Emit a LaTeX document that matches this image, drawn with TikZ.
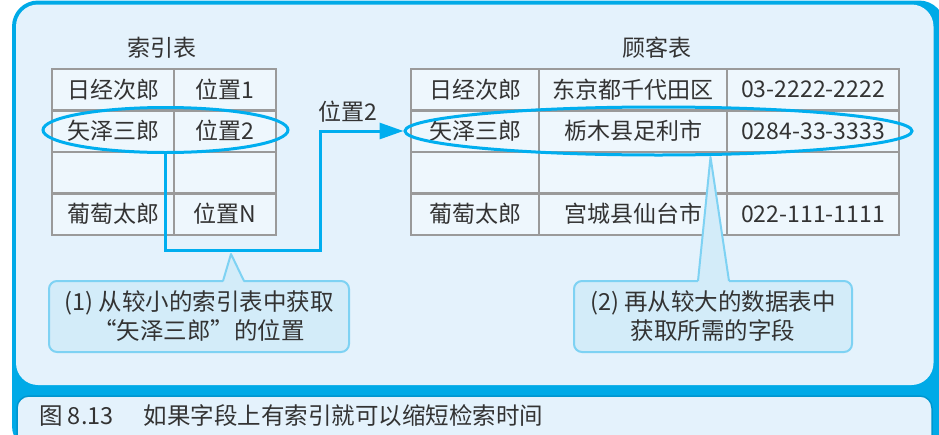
\documentclass[tikz,border=0pt]{standalone}
\usepackage{fontspec}
\setmainfont{Noto Sans CJK SC}
\usetikzlibrary{shapes.geometric,arrows.meta}
\definecolor{frameblue}{HTML}{00AAE7}
\definecolor{framedark}{HTML}{0096CF}
\definecolor{panel}{HTML}{E4F2FC}
\definecolor{cellfill}{HTML}{EEF7FD}
\definecolor{gridgray}{HTML}{9A9A9A}
\definecolor{hlblue}{HTML}{00AEEF}
\definecolor{calloutfill}{HTML}{D3ECF9}
\definecolor{calloutline}{HTML}{7ED2F3}
\definecolor{txt}{HTML}{333333}
\begin{document}
\begin{tikzpicture}[x=1pt,y=-1pt,
  cell/.style={draw=gridgray, line width=2.5pt, fill=cellfill, minimum height=41.5pt,
    inner sep=0pt, text=txt, font=\fontsize{23}{27}\selectfont},
  ttl/.style={text=txt, font=\fontsize{23}{27}\selectfont, inner sep=0pt},
  hl/.style={ellipse, draw=hlblue, line width=3pt, inner sep=0pt},
  cbox/.style={draw=calloutline, line width=2pt, fill=calloutfill, rounded corners=8pt,
    inner sep=0pt, text=txt, align=center, font=\fontsize{23.5}{29}\selectfont},
  flow/.style={draw=hlblue, line width=3pt, -{Triangle[length=24pt,width=16pt]}}
]
\useasboundingbox (0,0) rectangle (939,434);
\clip (0,0) rectangle (939,434);
% frame
\fill[frameblue, rounded corners=26pt] (12,0.5) rectangle (945,452);
\fill[panel, rounded corners=22pt] (16,4.5) rectangle (933.5,385);
\draw[framedark, line width=1.5pt, fill=panel, rounded corners=12pt] (17,396) rectangle (932,448);
\node[anchor=west, text=txt, font=\fontsize{23.5}{27}\selectfont, inner sep=0pt] (cap) at (39,415.5) {图 8.13\hspace{30pt}如果字段上有索引就可以缩短检索时间};

% titles
\node[ttl] (t1) at (162,48) {索引表};
\node[ttl] (t2) at (657,48) {顾客表};

% index table
\node[cell, minimum width=122pt] (i11) at (113,89.5) {日经次郎};
\node[cell, minimum width=102pt] (i12) at (225,89.5) {位置1};
\node[cell, minimum width=122pt] (i21) at (113,131) {矢泽三郎};
\node[cell, minimum width=102pt] (i22) at (225,131) {位置2};
\node[cell, minimum width=122pt] (i31) at (113,172.5) {};
\node[cell, minimum width=102pt] (i32) at (225,172.5) {};
\node[cell, minimum width=122pt] (i41) at (113,214) {葡萄太郎};
\node[cell, minimum width=102pt] (i42) at (225,214) {位置N};

% customer table
\node[cell, minimum width=128pt] (c11) at (475,89.5) {日经次郎};
\node[cell, minimum width=188pt] (c12) at (633,89.5) {东京都千代田区};
\node[cell, minimum width=172pt] (c13) at (813,89.5) {03-2222-2222};
\node[cell, minimum width=128pt] (c21) at (475,131) {矢泽三郎};
\node[cell, minimum width=188pt] (c22) at (633,131) {栃木县足利市};
\node[cell, minimum width=172pt] (c23) at (813,131) {0284-33-3333};
\node[cell, minimum width=128pt] (c31) at (475,172.5) {};
\node[cell, minimum width=188pt] (c32) at (633,172.5) {};
\node[cell, minimum width=172pt] (c33) at (813,172.5) {};
\node[cell, minimum width=128pt] (c41) at (475,214) {葡萄太郎};
\node[cell, minimum width=188pt] (c42) at (633,214) {宫城县仙台市};
\node[cell, minimum width=172pt] (c43) at (813,214) {022-111-1111};

% highlight ellipses
\node[hl, minimum width=245pt, minimum height=45pt] (e1) at (165.5,130) {};
\node[hl, minimum width=507pt, minimum height=48pt] (e2) at (658.5,131) {};

% flow arrow
\coordinate (b1) at (165.5,250);
\coordinate (b2) at (320,250);
\draw[flow] (e1.south) -- (b1) -- (b2) |- (e2.west);
\node[ttl] (lbl) at (348,112) {位置2};

% callout 1
\node[cbox, minimum width=300pt, minimum height=71pt] (k1) at (199,316.5) {(1) 从较小的索引表中获取\\“矢泽三郎”的位置};
\coordinate (p1) at (231,254);
\fill[calloutfill] (223,283) -- (p1) -- (244,283) -- cycle;
\draw[calloutline, line width=2pt, line join=round] (223,281) -- (p1) -- (244,281);

% callout 2
\node[cbox, minimum width=278pt, minimum height=71pt] (k2) at (713,316.5) {(2) 再从较大的数据表中\\获取所需的字段};
\coordinate (p2) at (710.5,157);
\fill[calloutfill] (698,283) -- (p2) -- (729,283) -- cycle;
\draw[calloutline, line width=2pt, line join=round] (698,281) -- (p2) -- (729,281);
\end{tikzpicture}
\end{document}
